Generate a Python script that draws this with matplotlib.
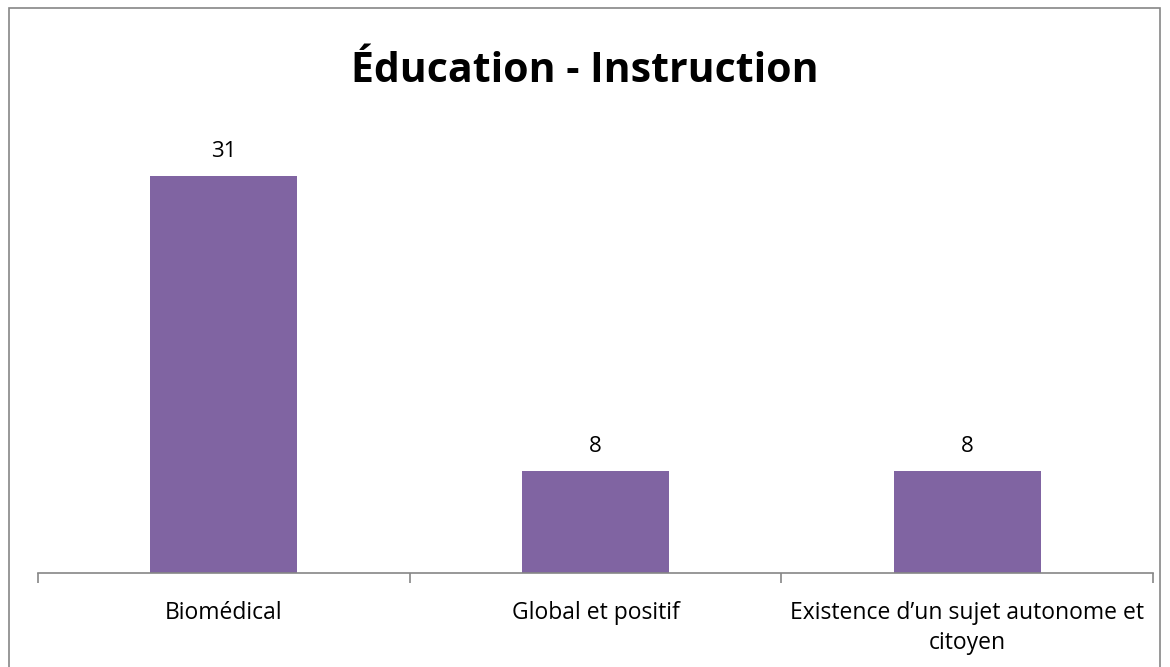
import matplotlib.pyplot as plt
from matplotlib.patches import Rectangle
import numpy as np

categories = ['Biomédical', 'Global et positif', 'Existence d\u2019un sujet autonome et\ncitoyen']
values = [31, 8, 8]
title = 'Éducation - Instruction'

plt.rcParams['font.family'] = ['Open Sans', 'DejaVu Sans']

W, H = 1170, 667
fig = plt.figure(figsize=(W / 100, H / 100), dpi=100)
ax = fig.add_axes([38 / W, 1 - 573 / H, (1153 - 38) / W, (573 - 125) / H])

x = np.arange(len(categories))
ax.bar(x, values, width=0.395, color='#8064A2')
for xi, v in zip(x, values):
    ax.text(xi, v + 1.9, str(v), ha='center', va='center', fontsize=16)

ax.set_xlim(-0.5, len(categories) - 0.5)
ax.set_ylim(0, 35)
ax.set_yticks([])
for s in ['top', 'right', 'left']:
    ax.spines[s].set_visible(False)
ax.spines['bottom'].set_color('#868686')
ax.spines['bottom'].set_linewidth(1.2)

ax.set_xticks(np.arange(-0.5, len(categories), 1.0))
ax.set_xticklabels([])
ax.tick_params(axis='x', length=7, color='#868686', width=1.2)

# category labels, centred under each bar
for xi, lab in zip(x, categories):
    ax.annotate(lab, xy=(xi, 0), xycoords=('data', 'axes fraction'),
                xytext=(0, -20), textcoords='offset points',
                ha='center', va='top', fontsize=16.5, linespacing=1.35,
                multialignment='center')

fig.text(0.5, 1 - 72 / H, title, ha='center', va='center', fontsize=29.5, fontweight='bold')

fig.patches.append(Rectangle((9 / W, -0.01), (1160 - 9) / W, 1 - 8 / H + 0.01,
                             transform=fig.transFigure, fill=False,
                             edgecolor='#868686', linewidth=1.2))

fig.savefig('out.png', dpi=100)
